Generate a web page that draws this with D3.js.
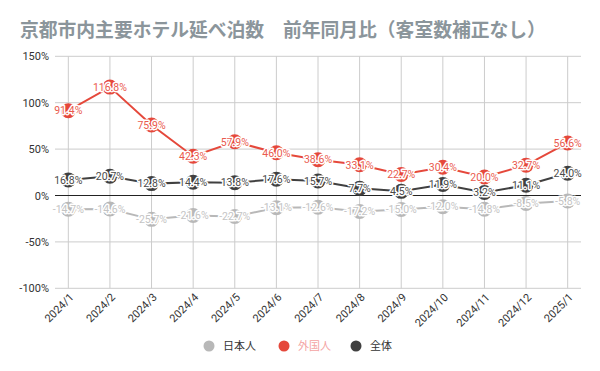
<!DOCTYPE html>
<html>
<head>
<meta charset="utf-8">
<script src="https://cdn.jsdelivr.net/npm/d3@7"></script>
<style>
  body { margin: 0; background: #fff; }
  text { font-family: Roboto, "Noto Sans CJK JP", sans-serif; }
</style>
</head>
<body>
<svg id="chart"></svg>
<script>
// data
var months = ["2024/1", "2024/2", "2024/3", "2024/4", "2024/5", "2024/6", "2024/7",
              "2024/8", "2024/9", "2024/10", "2024/11", "2024/12", "2025/1"];
var japanese = [-14.7, -14.6, -25.7, -21.6, -22.7, -13.1, -12.6, -17.2, -15.0, -12.0, -14.8, -8.5, -5.8];
var foreign = [91.4, 116.8, 75.9, 42.3, 57.9, 46.0, 38.6, 33.1, 22.7, 30.4, 20.0, 32.7, 56.6];
var total = [16.8, 20.7, 12.8, 14.4, 13.8, 17.6, 15.7, 7.7, 4.5, 11.9, 3.2, 11.1, 24.0];
var yTicks = [150, 100, 50, 0, -50, -100];
var seriesNames = ["日本人", "外国人", "全体"];

var width = 600, height = 371;
var svg = d3.select("#chart").attr("width", width).attr("height", height);

var series = [
    { name: seriesNames[0], values: japanese, color: "#b8b8b8", label: "#c4c4c4", legendText: "#333" },
    { name: seriesNames[1], values: foreign, color: "#e5483b", label: "#ea5a4e", legendText: "#f4a3a3" },
    { name: seriesNames[2], values: total, color: "#404040", label: "#4a4a4a", legendText: "#333" }
];

// title
svg.append("text")
    .text("京都市内主要ホテル延べ泊数　前年同月比（客室数補正なし）")
    .attr("x", 20)
    .attr("y", 37)
    .style("font-family", "'Noto Sans CJK JP', sans-serif")
    .style("font-size", "18.8px")
    .style("font-weight", "bold")
    .attr("fill", "#8b959b");

// scales
var x = d3.scalePoint().domain(months).range([55, 581]).padding(0.32);
var y = d3.scaleLinear().domain([-100, 150]).range([288.3, 56.3]);

// horizontal grid
svg.append("g").selectAll("line")
    .data(yTicks)
    .enter().append("line")
    .attr("x1", 55).attr("x2", 581)
    .attr("y1", (d) => y(d)).attr("y2", (d) => y(d))
    .attr("stroke", "#cccccc")
    .attr("stroke-width", 1);

// vertical grid
svg.append("g").selectAll("line")
    .data(months)
    .enter().append("line")
    .attr("x1", (d) => x(d)).attr("x2", (d) => x(d))
    .attr("y1", y(150)).attr("y2", y(-100))
    .attr("stroke", "#cccccc")
    .attr("stroke-width", 1);

// zero line on top of grid
svg.append("line")
    .attr("x1", 55).attr("x2", 581)
    .attr("y1", y(0)).attr("y2", y(0))
    .attr("stroke", "#222").attr("stroke-width", 1);

// y labels
svg.append("g").selectAll("text")
    .data(yTicks)
    .enter().append("text")
    .text((d) => d + "%")
    .attr("x", 49)
    .attr("y", (d) => y(d) + 4)
    .attr("text-anchor", "end")
    .style("font-size", "11px")
    .attr("fill", "#333");

// x labels
svg.append("g").selectAll("text")
    .data(months)
    .enter().append("text")
    .text((d) => d)
    .attr("text-anchor", "end")
    .attr("transform", (d) => "translate(" + (x(d) + 6) + "," + 298 + ") rotate(-45)")
    .style("font-size", "11px")
    .attr("fill", "#333");

var line = d3.line()
    .x((d, i) => x(months[i]))
    .y((d) => y(d));

// lines and markers
series.forEach(function (s) {
    svg.append("path")
        .datum(s.values)
        .attr("d", line)
        .attr("fill", "none")
        .attr("stroke", s.color)
        .attr("stroke-width", 2);
    svg.append("g").selectAll("circle")
        .data(s.values)
        .enter().append("circle")
        .attr("cx", (d, i) => x(months[i]))
        .attr("cy", (d) => y(d))
        .attr("r", 7.5)
        .attr("fill", s.color);
});

// data labels
series.forEach(function (s) {
    svg.append("g").selectAll("text")
        .data(s.values)
        .enter().append("text")
        .text((d) => d.toFixed(1) + "%")
        .attr("x", (d, i) => x(months[i]))
        .attr("y", (d) => y(d) + 3.8)
        .attr("text-anchor", "middle")
        .style("font-size", "10.5px")
        .style("paint-order", "stroke")
        .attr("stroke", "#fff")
        .attr("stroke-width", 3)
        .attr("stroke-linejoin", "round")
        .attr("fill", s.label);
});

// legend
var legendX = [209, 284, 356];
var legend = svg.append("g").selectAll("g")
    .data(series)
    .enter().append("g")
    .attr("transform", (d, i) => "translate(" + legendX[i] + ",346)");
legend.append("circle")
    .attr("r", 5.5)
    .attr("fill", (d) => d.color);
legend.append("text")
    .text((d) => d.name)
    .attr("x", 14)
    .attr("y", 4)
    .style("font-size", "11px")
    .style("font-family", "'Noto Sans CJK JP', sans-serif")
    .attr("fill", (d) => d.legendText);
</script>
</body>
</html>
